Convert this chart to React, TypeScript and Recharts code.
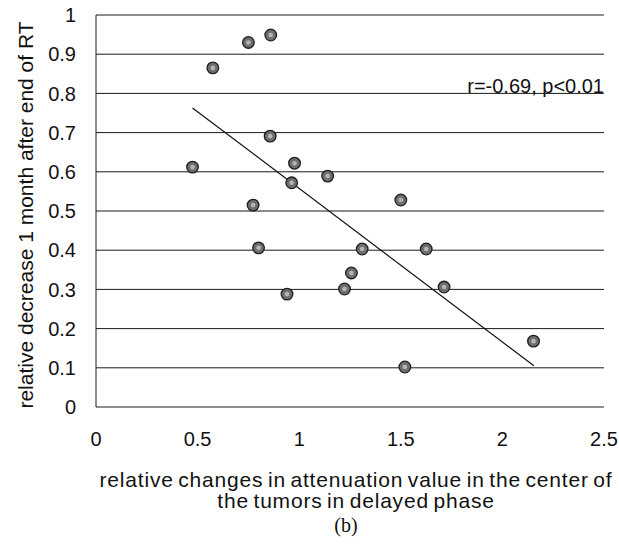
import React from "react";
import {
  ScatterChart,
  Scatter,
  XAxis,
  YAxis,
  CartesianGrid,
  ReferenceLine,
} from "recharts";

// Measured points
const xValues = [0.475, 0.575, 0.75, 0.86, 0.857, 0.977, 0.963, 0.773, 0.8, 0.94, 1.14, 1.5, 1.31, 1.625, 1.257, 1.223, 1.713, 2.153, 1.52];
const yValues = [0.612, 0.865, 0.93, 0.949, 0.691, 0.622, 0.572, 0.515, 0.406, 0.288, 0.589, 0.528, 0.403, 0.403, 0.342, 0.301, 0.306, 0.168, 0.102];

// Regression line end points
const trendX = [0.475, 2.155];
const trendY = [0.763, 0.105];

const xTicks = [0, 0.5, 1, 1.5, 2, 2.5];
const yTicks = [0, 0.1, 0.2, 0.3, 0.4, 0.5, 0.6, 0.7, 0.8, 0.9, 1];
const xTickLabels = ["0", "0.5", "1", "1.5", "2", "2.5"];
const yTickLabels = ["0", "0.1", "0.2", "0.3", "0.4", "0.5", "0.6", "0.7", "0.8", "0.9", "1"];

const xTitleLines = [
  "relative changes in attenuation value in the center of",
  "the tumors in delayed phase",
];
const subCaption = "(b)";
const yTitle = "relative decrease 1 month after end of RT";
const annotation = "r=-0.69, p<0.01";

const points = xValues.map((x, i) => ({ x, y: yValues[i] }));
const trend = trendX.map((x, i) => ({ x, y: trendY[i] }));

const FONT = "'Liberation Sans', Arial, sans-serif";

const Dot = (props: any) => {
  const { cx, cy } = props;
  if (cx == null || cy == null) return <g />;
  return (
    <g>
      <circle cx={cx} cy={cy} r={5.8} fill="#6e6e6e" stroke="#1e1e1e" strokeWidth={1.3} />
      <circle cx={cx} cy={cy} r={2.3} fill="#b5b5b5" stroke="none" />
    </g>
  );
};

const XTitle = (props: any) => {
  const vb = props.viewBox || {};
  const cx = (vb.x ?? 96) + (vb.width ?? 508) / 2 + 6;
  const top = vb.y ?? 407;
  return (
    <g>
      <text x={cx} y={top + 80} textAnchor="middle" fontFamily={FONT} fontSize={21} fill="#111" wordSpacing={-2} letterSpacing={0.8}>
        {xTitleLines[0]}
      </text>
      <text x={cx} y={top + 101} textAnchor="middle" fontFamily={FONT} fontSize={21} fill="#111" wordSpacing={-2} letterSpacing={0.8}>
        {xTitleLines[1]}
      </text>
      <text x={cx - 10} y={top + 125} textAnchor="middle" fontFamily="'Liberation Serif', 'Times New Roman', serif" fontSize={20} fill="#111">
        {subCaption}
      </text>
    </g>
  );
};

const YTitle = (props: any) => {
  const vb = props.viewBox || {};
  const top = vb.y ?? 15;
  const h = vb.height ?? 392;
  const x = 25;
  const y = top + h / 2 + 4;
  return (
    <text
      x={x}
      y={y}
      transform={`rotate(-90, ${x}, ${y})`}
      textAnchor="middle"
      dominantBaseline="central"
      fontFamily={FONT}
      fontSize={21}
      fill="#111"
    >
      {yTitle}
    </text>
  );
};

export default function App() {
  return (
    <div style={{ position: "absolute", left: 0, top: 0, background: "#fff" }}>
      <ScatterChart
        width={619}
        height={547}
        margin={{ top: 15, right: 15, bottom: 0, left: 0 }}
      >
        <CartesianGrid horizontal vertical={false} stroke="#1a1a1a" strokeWidth={1} />
        <XAxis
          type="number"
          dataKey="x"
          domain={[0, 2.5]}
          ticks={xTicks}
          tickFormatter={(v: number) => xTickLabels[xTicks.indexOf(v)] ?? String(v)}
          height={140}
          axisLine={false}
          tickLine={false}
          tickSize={0}
          tickMargin={25}
          tick={{ fontFamily: FONT, fontSize: 20, fill: "#111" }}
          interval={0}
          label={{ content: XTitle } as any}
        />
        <YAxis
          type="number"
          dataKey="y"
          domain={[0, 1]}
          ticks={yTicks}
          tickFormatter={(v: number) => yTickLabels[yTicks.indexOf(v)] ?? String(v)}
          width={96}
          axisLine={{ stroke: "#1a1a1a", strokeWidth: 1 }}
          tickLine={false}
          tickSize={0}
          tickMargin={20}
          tick={{ fontFamily: FONT, fontSize: 20, fill: "#111" }}
          interval={0}
          label={{ content: YTitle } as any}
        />
        <ReferenceLine
          y={0.8}
          stroke="none"
          label={{
            value: annotation,
            position: "insideBottomRight",
            offset: 0,
            fontFamily: FONT,
            fontSize: 20,
            fill: "#111",
          }}
        />
        <Scatter
          data={trend}
          line={{ stroke: "#111", strokeWidth: 1.2 }}
          shape={() => <g />}
          legendType="none"
          isAnimationActive={false}
        />
        <Scatter data={points} shape={Dot} isAnimationActive={false} />
      </ScatterChart>
    </div>
  );
}
